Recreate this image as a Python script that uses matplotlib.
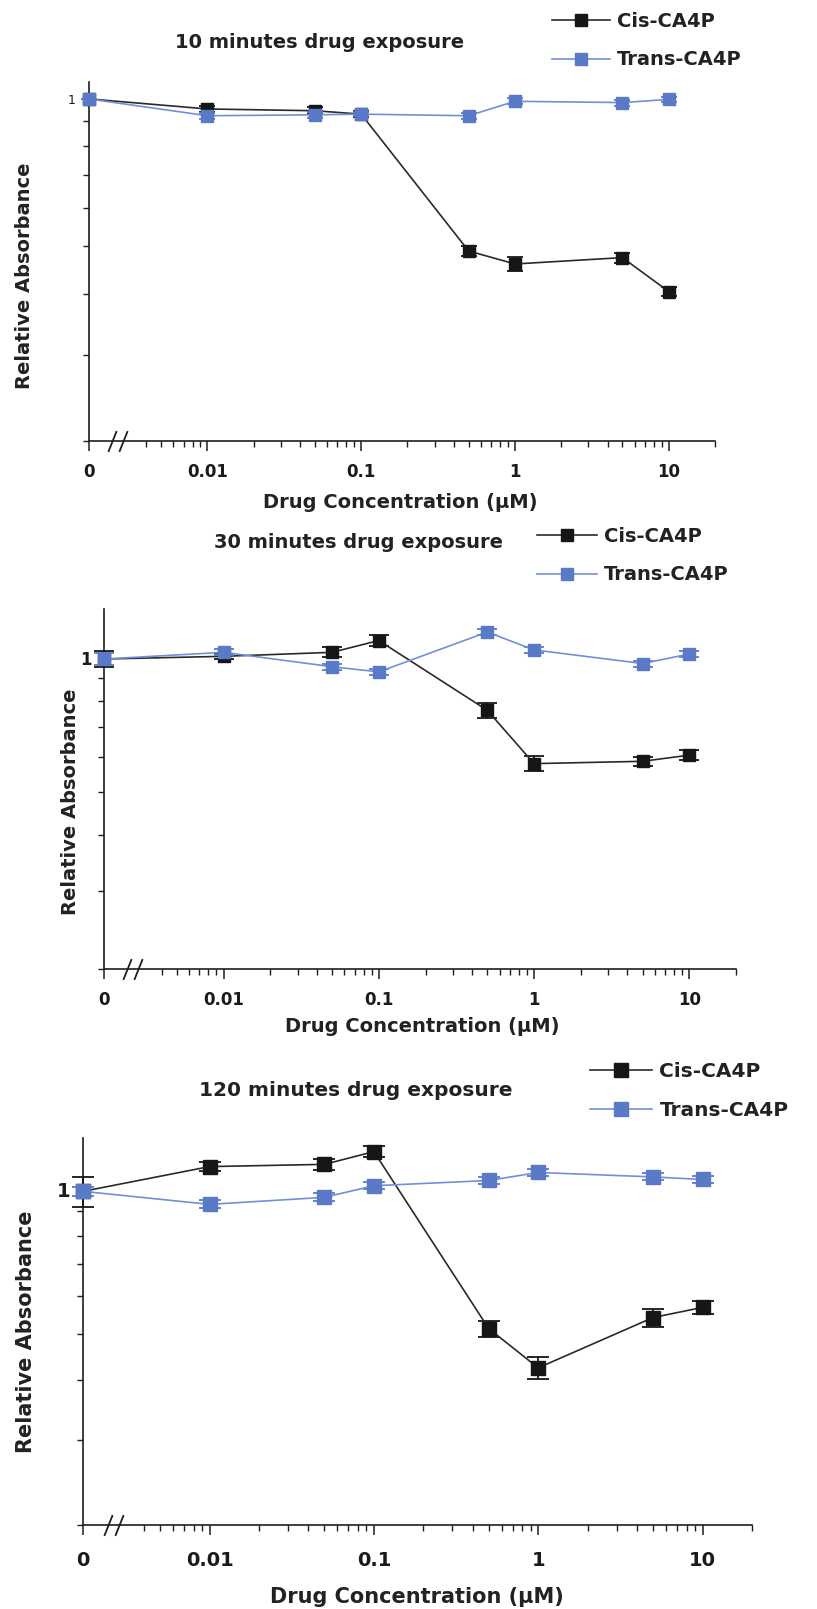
"""
Relative absorbance vs drug concentration for Cis-/Trans-CA4P
at three exposure times (10, 30, 120 min), broken log x-axis.
"""

import numpy as np
import matplotlib
matplotlib.use('Agg')
import matplotlib.pyplot as plt
from matplotlib.path import Path
from matplotlib.ticker import FixedLocator, FixedFormatter, NullFormatter

# ---- data -----------------------------------------------------------------
conc = [0, 0.01, 0.05, 0.1, 0.5, 1, 5, 10]

cis_10 = [1.00, 0.954, 0.946, 0.931, 0.489, 0.460, 0.474, 0.404]
cis_10_err = [0.0, 0.015, 0.015, 0.012, 0.012, 0.015, 0.011, 0.009]
trans_10 = [1.00, 0.924, 0.928, 0.931, 0.924, 0.989, 0.983, 0.998]
trans_10_err = [0.0, 0.012, 0.012, 0.010, 0.012, 0.014, 0.014, 0.012]

cis_30 = [0.995, 1.009, 1.030, 1.095, 0.763, 0.579, 0.586, 0.605]
cis_30_err = [0.042, 0.014, 0.027, 0.029, 0.028, 0.022, 0.014, 0.015]
trans_30 = [0.995, 1.030, 0.956, 0.931, 1.144, 1.043, 0.972, 1.021]
trans_30_err = [0.030, 0.016, 0.015, 0.015, 0.017, 0.015, 0.015, 0.015]

cis_120 = [0.991, 1.116, 1.128, 1.199, 0.513, 0.425, 0.541, 0.568]
cis_120_err = [0.073, 0.024, 0.032, 0.032, 0.020, 0.023, 0.023, 0.017]
trans_120 = [0.991, 0.931, 0.963, 1.018, 1.044, 1.085, 1.062, 1.049]
trans_120_err = [0.020, 0.018, 0.018, 0.018, 0.018, 0.018, 0.018, 0.018]

titles = ['10 minutes drug exposure', '30 minutes drug exposure',
          '120 minutes drug exposure']
series_names = ['Cis-CA4P', 'Trans-CA4P']
x_tick_labels = ['0', '0.01', '0.1', '1', '10']

# ---- axis helpers -----------------------------------------------------------
ZERO_X = 10 ** -2.77          # where "0" sits on the broken log axis
X_MAX = 20
BREAK_X = [10 ** -2.62, 10 ** -2.55]

x_major = [ZERO_X, 0.01, 0.1, 1, 10]
x_minor = ([k * 1e-3 for k in range(4, 10)] + [k * 1e-2 for k in range(2, 10)]
           + [k * 1e-1 for k in range(2, 10)] + list(range(2, 10)) + [20])
y_minor = [k / 10 for k in range(2, 10)]

CIS_MARK = '#161616'
CIS_LINE = '#2a2a2a'
TRANS_MARK = '#5a7ac8'
TRANS_LINE = '#7090d6'
FONT = 'DejaVu Sans'

W, H = 817, 1609
fig = plt.figure(figsize=(W / 100, H / 100), dpi=100)


def fx(x):
    return x / W


def fy(y):
    return 1 - y / H


def xpos(values):
    return [ZERO_X if v == 0 else v for v in values]


BREAK_MARK = Path([(-0.4, -1.0), (0.4, 1.0)], [Path.MOVETO, Path.LINETO])


def draw_panel(rect, ytop, cis, cis_err, trans, trans_err, st):
    left, top, right, bottom = rect
    ax = fig.add_axes([fx(left), fy(bottom), fx(right - left), (bottom - top) / H])
    x = xpos(conc)

    ax.errorbar(x, cis, yerr=cis_err, fmt='none', ecolor=CIS_MARK,
                elinewidth=1.3, capsize=st['cap'], capthick=1.3,
                clip_on=False, zorder=3)
    l_cis, = ax.plot(x, cis, '-s', color=CIS_LINE, mfc=CIS_MARK, mec=CIS_MARK,
                     ms=st['ms'], lw=1.2, clip_on=False, zorder=4)
    ax.errorbar(x, trans, yerr=trans_err, fmt='none', ecolor=TRANS_MARK,
                elinewidth=1.3, capsize=st['cap'], capthick=1.3,
                clip_on=False, zorder=5)
    l_trans, = ax.plot(x, trans, '-s', color=TRANS_LINE, mfc=TRANS_MARK,
                       mec=TRANS_MARK, ms=st['ms'], lw=1.2, clip_on=False,
                       zorder=6)

    ax.set_xscale('log')
    ax.set_yscale('log')
    ax.set_xlim(ZERO_X, X_MAX)
    ax.set_ylim(0.2, ytop)

    for s in ['top', 'right']:
        ax.spines[s].set_visible(False)
    for s in ['left', 'bottom']:
        ax.spines[s].set_linewidth(1.2)
        ax.spines[s].set_color('#1e1e1e')

    ax.xaxis.set_major_locator(FixedLocator(x_major))
    ax.xaxis.set_major_formatter(FixedFormatter(x_tick_labels))
    ax.xaxis.set_minor_locator(FixedLocator(x_minor))
    ax.xaxis.set_minor_formatter(NullFormatter())
    ax.yaxis.set_major_locator(FixedLocator([1]))
    ax.yaxis.set_major_formatter(FixedFormatter(['1']))
    ax.yaxis.set_minor_locator(FixedLocator(y_minor))
    ax.yaxis.set_minor_formatter(NullFormatter())

    ax.tick_params(axis='x', which='major', direction='out', length=7,
                   width=1.1, color='#1e1e1e', pad=st['xpad'],
                   labelsize=st['xfs'])
    ax.tick_params(axis='x', which='minor', direction='out', length=4,
                   width=1.0, color='#1e1e1e')
    ax.tick_params(axis='y', which='both', direction='out', length=4,
                   width=1.0, color='#1e1e1e', pad=st['ypad'],
                   labelsize=st['yfs'])
    for lab in ax.get_xticklabels():
        lab.set_fontweight('bold')
        lab.set_fontfamily(FONT)
        lab.set_color('#1a1a1a')
    for lab in ax.get_yticklabels():
        lab.set_fontweight(st['yweight'])
        lab.set_fontfamily(FONT)
        lab.set_color('#1a1a1a')

    # axis break "//"
    ax.plot(BREAK_X, [0.2, 0.2], ls='none', marker=BREAK_MARK, ms=15,
            mec='#1e1e1e', mew=1.3, clip_on=False, zorder=7)

    # title, legend and axis labels placed in figure pixels
    fig.text(fx(st['title_x']), fy(st['title_y']), st['title'], ha='center',
             va='center', fontsize=st['tfs'], fontweight='bold', family=FONT,
             color='#222222')
    fig.text(fx(st['ylab_x']), fy((top + bottom) / 2 + st['ylab_dy']),
             'Relative Absorbance', rotation=90, ha='center', va='center',
             fontsize=st['lfs'], fontweight='bold', family=FONT, color='#222222')
    fig.text(fx(st['xlab_x']), fy(st['xlab_y']), 'Drug Concentration (\u03bcM)',
             ha='center', va='center', fontsize=st['lfs'], fontweight='bold',
             family=FONT, color='#222222')

    leg = ax.legend([l_cis, l_trans], series_names, loc='upper left',
                    bbox_to_anchor=(fx(st['leg_x']), fy(st['leg_y'])),
                    bbox_transform=fig.transFigure, frameon=False,
                    numpoints=1, handlelength=st['hl'], handletextpad=0.35,
                    labelspacing=st['lsp'], borderpad=0, borderaxespad=0,
                    prop={'family': FONT, 'weight': 'bold',
                          'size': st['legfs']})
    for t in leg.get_texts():
        t.set_color('#222222')
    return ax


styles = [
    dict(title=titles[0], title_x=320, title_y=43, tfs=14,
         leg_x=552, leg_y=12, legfs=14, hl=3.0, lsp=1.0, ms=8.5, cap=6,
         xfs=12, xpad=9, yfs=9, ypad=6, yweight='normal',
         ylab_x=25, ylab_dy=14, xlab_x=400, xlab_y=502, lfs=14),
    dict(title=titles[1], title_x=358, title_y=543, tfs=14,
         leg_x=537, leg_y=527, legfs=14, hl=3.1, lsp=1.0, ms=9, cap=7,
         xfs=12, xpad=9, yfs=12, ypad=5, yweight='bold',
         ylab_x=70, ylab_dy=13, xlab_x=422, xlab_y=1026, lfs=14),
    dict(title=titles[2], title_x=356, title_y=1090, tfs=14.5,
         leg_x=590, leg_y=1062, legfs=14.5, hl=3.1, lsp=1.0, ms=10, cap=8,
         xfs=14, xpad=12, yfs=14, ypad=5, yweight='bold',
         ylab_x=26, ylab_dy=0, xlab_x=417, xlab_y=1597, lfs=15),
]

rects = [(89, 82, 715, 441), (104, 609, 736, 969), (83, 1138, 752, 1525)]
ytops = [1.083, 1.289, 1.28]
panel_data = [
    (cis_10, cis_10_err, trans_10, trans_10_err),
    (cis_30, cis_30_err, trans_30, trans_30_err),
    (cis_120, cis_120_err, trans_120, trans_120_err),
]

for rect, ytop, (c, ce, t, te), st in zip(rects, ytops, panel_data, styles):
    draw_panel(rect, ytop, c, ce, t, te, st)

fig.savefig('out.png', dpi=100, facecolor='white')
plt.close(fig)
